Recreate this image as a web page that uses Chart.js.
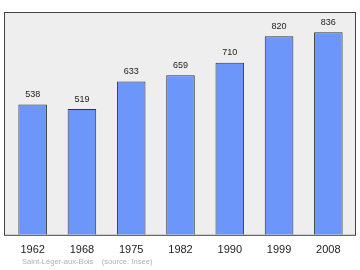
<!DOCTYPE html>
<html>
<head>
<meta charset="utf-8">
<script src="https://cdn.jsdelivr.net/npm/chart.js@4"></script>
<style>
  html, body { margin: 0; padding: 0; background: #fff; }
  #wrap { width: 360px; height: 270px; position: relative; }
</style>
</head>
<body>
<div id="wrap"><canvas id="popChart"></canvas></div>
<script>
const years = ['1962', '1968', '1975', '1982', '1990', '1999', '2008'];
const population = [538, 519, 633, 659, 710, 820, 836];
const footerText = 'Saint-Léger-aux-Bois    (source: Insee)';

// grey frame behind the bars, a bit wider than the category area
const framePlugin = {
    id: 'frame',
    beforeDatasetsDraw(chart) {
        const a = chart.chartArea;
        const c = chart.ctx;
        const left = a.left - 4, right = a.right + 3;
        c.save();
        c.fillStyle = '#eeeeee';
        c.fillRect(left, a.top, right - left, a.bottom - a.top);
        c.strokeStyle = '#444';
        c.lineWidth = 1;
        c.strokeRect(left + 0.5, a.top + 0.5, right - left - 1, a.bottom - a.top);
        c.restore();
    }
};

// value above each bar + source line
const labelPlugin = {
    id: 'valueLabels',
    afterDatasetsDraw(chart) {
        const c = chart.ctx;
        const meta = chart.getDatasetMeta(0);
        c.save();
        c.font = '9px "Liberation Sans", Arial, sans-serif';
        c.fillStyle = '#222';
        c.textAlign = 'center';
        c.textBaseline = 'middle';
        meta.data.forEach((bar, i) => {
            c.fillText(population[i], bar.x, bar.y - 10);
        });
        c.font = '7.6px "Liberation Sans", Arial, sans-serif';
        c.fillStyle = '#b0b0b0';
        c.textAlign = 'left';
        c.fillText(footerText, 22, 262);
        c.restore();
    }
};

new Chart(document.getElementById('popChart'), {
    type: 'bar',
    data: {
        labels: years,
        datasets: [{
            data: population,
            backgroundColor: '#6d96fa',
            borderColor: '#333',
            borderWidth: 1,
            barPercentage: 0.58,
            categoryPercentage: 1
        }]
    },
    options: {
        responsive: true,
        maintainAspectRatio: false,
        animation: false,
        layout: { padding: { left: 8, right: 7, top: 12, bottom: 4 } },
        plugins: {
            legend: { display: false },
            tooltip: { enabled: false }
        },
        scales: {
            x: {
                grid: { display: false, drawTicks: false },
                border: { display: false },
                ticks: {
                    color: '#222',
                    padding: 9,
                    maxRotation: 0,
                    font: { family: '"Liberation Sans", Arial, sans-serif', size: 11 }
                }
            },
            y: {
                display: false,
                min: 0,
                max: 920
            }
        }
    },
    plugins: [framePlugin, labelPlugin]
});
</script>
</body>
</html>
